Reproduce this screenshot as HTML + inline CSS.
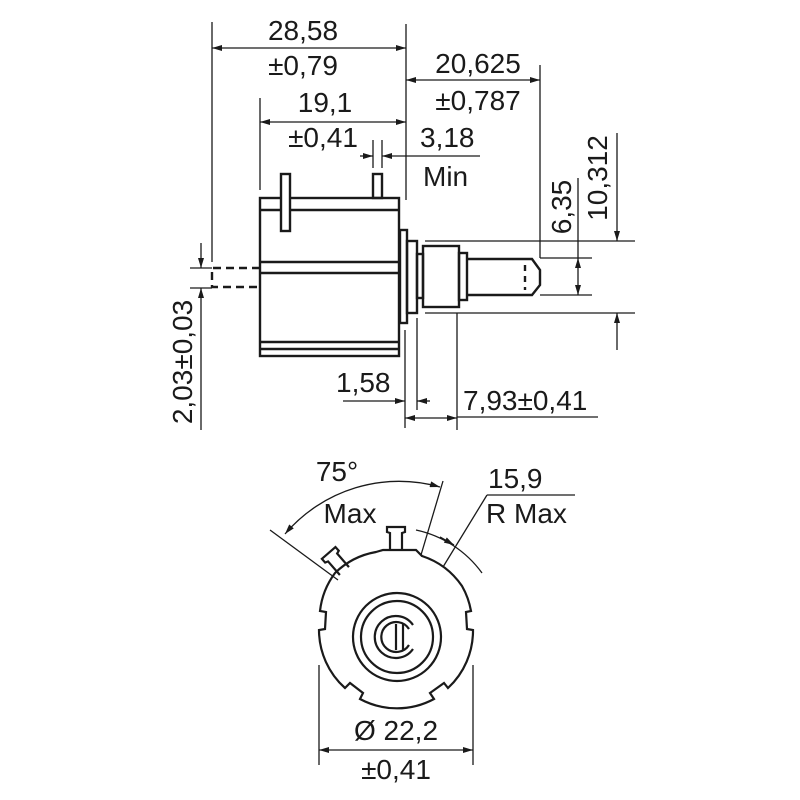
<!DOCTYPE html>
<html><head><meta charset="utf-8"><style>
html,body{margin:0;padding:0;background:#fff;}
svg{display:block}
text{font-family:"Liberation Sans",sans-serif;font-size:28px;fill:#1a1a1a}
</style></head><body>
<svg width="800" height="800" viewBox="0 0 800 800" xmlns="http://www.w3.org/2000/svg">
<defs>
<marker id="a" viewBox="0 0 10 6" refX="10" refY="3" markerWidth="11" markerHeight="6" orient="auto-start-reverse" markerUnits="userSpaceOnUse"><path d="M0,0 L10,3 L0,6 z" fill="#1a1a1a"/></marker>
</defs>
<g stroke="#1a1a1a" stroke-width="1.3" fill="none">
<line x1="212" y1="22" x2="212" y2="262"/>
<line x1="406" y1="24" x2="406" y2="200"/>
<line x1="540" y1="65" x2="540" y2="258"/>
<line x1="260" y1="98" x2="260" y2="190"/>
<line x1="373" y1="140" x2="373" y2="168"/>
<line x1="382" y1="140" x2="382" y2="168"/>
<line x1="212" y1="48" x2="406" y2="48" marker-start="url(#a)" marker-end="url(#a)"/>
<line x1="406" y1="80" x2="540" y2="80" marker-start="url(#a)" marker-end="url(#a)"/>
<line x1="260" y1="122" x2="406" y2="122" marker-start="url(#a)" marker-end="url(#a)"/>
<line x1="360" y1="156" x2="373" y2="156" marker-end="url(#a)"/>
<line x1="480" y1="156" x2="382" y2="156" marker-end="url(#a)"/>
<line x1="540" y1="258" x2="592" y2="258"/>
<line x1="540" y1="295" x2="592" y2="295"/>
<line x1="578" y1="178" x2="578" y2="258"/>
<line x1="578" y1="277" x2="578" y2="258" marker-end="url(#a)"/>
<line x1="578" y1="277" x2="578" y2="295" marker-end="url(#a)"/>
<line x1="425" y1="241" x2="635" y2="241"/>
<line x1="425" y1="313" x2="635" y2="313"/>
<line x1="617" y1="133" x2="617" y2="241" marker-end="url(#a)"/>
<line x1="617" y1="350" x2="617" y2="313" marker-end="url(#a)"/>
<line x1="190" y1="268" x2="212" y2="268"/>
<line x1="190" y1="288" x2="212" y2="288"/>
<line x1="201" y1="243" x2="201" y2="268" marker-end="url(#a)"/>
<line x1="201" y1="430" x2="201" y2="288" marker-end="url(#a)"/>
<line x1="405" y1="330" x2="405" y2="428"/>
<line x1="417" y1="318" x2="417" y2="410"/>
<line x1="457" y1="313" x2="457" y2="430"/>
<line x1="343" y1="401" x2="405" y2="401" marker-end="url(#a)"/>
<line x1="430" y1="401" x2="417" y2="401" marker-end="url(#a)"/>
<line x1="405" y1="418" x2="457" y2="418" marker-start="url(#a)" marker-end="url(#a)"/>
<line x1="457" y1="417" x2="598" y2="417"/>
</g>
<g stroke="#1a1a1a" stroke-width="2.4" fill="none">
<rect x="260" y="198" width="139" height="158"/>
<line x1="260" y1="210" x2="399" y2="210"/>
<line x1="260" y1="262" x2="399" y2="262"/>
<line x1="260" y1="273" x2="399" y2="273"/>
<line x1="260" y1="342" x2="399" y2="342"/>
<line x1="260" y1="349" x2="399" y2="349"/>
<rect x="281" y="174" width="9" height="57" fill="#fff"/>
<rect x="373" y="174" width="9" height="24"/>
<rect x="400" y="230" width="7" height="93"/>
<rect x="407" y="241" width="10" height="72"/>
<rect x="417" y="254" width="6" height="44"/>
<rect x="423" y="246" width="36" height="61"/>
<rect x="459" y="253" width="8" height="47"/>
<path d="M467,259 L532,259 L540,270 L540,285 L532,295 L467,295"/>
<line x1="525" y1="265" x2="525" y2="290" stroke-dasharray="6,5"/>
<path d="M260,268 L212,268 L212,287 L260,287" stroke-dasharray="8,5"/>
</g>
<text x="303" y="40" text-anchor="middle">28,58</text>
<text x="303" y="75" text-anchor="middle">±0,79</text>
<text x="478" y="73" text-anchor="middle">20,625</text>
<text x="478" y="110" text-anchor="middle">±0,787</text>
<text x="325" y="112" text-anchor="middle">19,1</text>
<text x="323" y="147" text-anchor="middle">±0,41</text>
<text x="420" y="147">3,18</text>
<text x="423" y="186">Min</text>
<text x="336" y="392">1,58</text>
<text x="463" y="410">7,93±0,41</text>
<text transform="translate(571,207) rotate(-90)" text-anchor="middle">6,35</text>
<text transform="translate(607,178) rotate(-90)" text-anchor="middle">10,312</text>
<text transform="translate(192,362) rotate(-90)" text-anchor="middle">2,03±0,03</text>
<g stroke="#1a1a1a" stroke-width="2.2" fill="none">
<path d="M376,552 L383,550 L416,550 L422,556
 A78,78 0 0 1 462,586
 A78,78 0 0 1 471,611 L466,612 L467,629 L473,630
 A78,78 0 0 1 448,688 L444,683 L430,693 L434,699
 A78,78 0 0 1 360,699 L363,693 L350,683 L345,688
 A78,78 0 0 1 319,630 L325,629 L326,612 L320,611
 A78,78 0 0 1 335,573
 A78,78 0 0 1 376,552 Z"/>
<path id="tab" d="M390,551 L390,533 L387,532 L387,527 L405,527 L405,532 L402,533 L402,551"/>
<path d="M390,551 L390,533 L387,532 L387,527 L405,527 L405,532 L402,533 L402,551" transform="rotate(-41 397 630)"/>
<circle cx="397" cy="637" r="44"/>
<circle cx="397" cy="637" r="36"/>
<path d="M413,625 A21,21 0 1 0 413,649"/>
<path d="M409,629 A15,15 0 1 0 409,645"/>
<line x1="396" y1="624" x2="396" y2="650"/>
<line x1="403" y1="624" x2="403" y2="650"/>
</g>
<g stroke="#1a1a1a" stroke-width="1.3" fill="none">
<line x1="270" y1="530" x2="338" y2="580"/>
<line x1="443" y1="481" x2="421" y2="555"/>
<path d="M285,534 A150,150 0 0 1 440,487" marker-start="url(#a)" marker-end="url(#a)"/>
<path d="M416,530 A110,110 0 0 1 482,573"/>
<line x1="440" y1="537" x2="454" y2="545" marker-end="url(#a)"/>
<line x1="443" y1="567" x2="487" y2="495"/>
<line x1="487" y1="495" x2="575" y2="495"/>
<line x1="319" y1="665" x2="319" y2="765"/>
<line x1="473" y1="665" x2="473" y2="765"/>
<line x1="319" y1="750" x2="473" y2="750" marker-start="url(#a)" marker-end="url(#a)"/>
</g>
<text x="337" y="481" text-anchor="middle">75°</text>
<text x="350" y="523" text-anchor="middle">Max</text>
<text x="488" y="488">15,9</text>
<text x="486" y="523">R Max</text>
<text x="396" y="740" text-anchor="middle">Ø 22,2</text>
<text x="396" y="779" text-anchor="middle">±0,41</text>
</svg>
</body></html>
